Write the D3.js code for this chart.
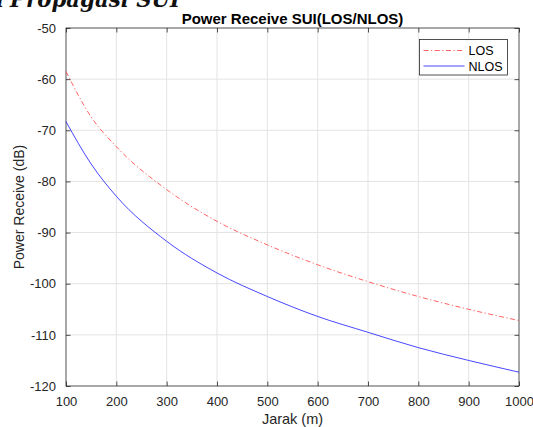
<!DOCTYPE html>
<html>
<head>
<meta charset="utf-8">
<script src="https://cdn.jsdelivr.net/npm/d3@7/dist/d3.min.js"></script>
<style>
  body { margin: 0; background: #fff; }
  svg { display: block; font-family: "Liberation Sans", Arial, sans-serif; }
</style>
</head>
<body>
<div id="app"></div>
<script>
// values
const jarak = [100, 150, 200, 300, 400, 500, 600, 700, 800, 900, 1000];
const los = [-58.5, -67.4, -73.2, -81.6, -87.8, -92.4, -96.3, -99.6, -102.5, -105.0, -107.2];
const nlos = [-68.3, -76.6, -82.9, -91.7, -97.9, -102.5, -106.4, -109.5, -112.5, -115.0, -117.3];
const xTicks = [100, 200, 300, 400, 500, 600, 700, 800, 900, 1000];
const yTicks = [-50, -60, -70, -80, -90, -100, -110, -120];
const seriesNames = ['LOS', 'NLOS'];

const width = 533;
const height = 427;
const margin = { top: 28, right: 14, bottom: 41, left: 66 };
const innerW = width - margin.left - margin.right;
const innerH = height - margin.top - margin.bottom;
const axisColor = '#262626';
const gridColor = '#e3e3e3';
const tickLen = 4.5;

const svg = d3.select('#app').append('svg')
  .attr('width', width)
  .attr('height', height);

// clipped heading from the surrounding document
const heading = svg.append('g')
  .style('font-family', '"DejaVu Serif", "Liberation Serif", serif')
  .style('font-weight', 'bold')
  .style('font-style', 'italic')
  .style('font-size', '22px')
  .attr('fill', '#111');

heading.append('text')
  .attr('x', 4).attr('y', 7)
  .attr('text-anchor', 'end')
  .text('i');

heading.append('text')
  .attr('x', 10).attr('y', 7)
  .attr('textLength', 170)
  .attr('lengthAdjust', 'spacingAndGlyphs')
  .text('Propagasi SUI');

const x = d3.scaleLinear().domain([100, 1000]).range([0, innerW]);
const y = d3.scaleLinear().domain([-120, -50]).range([innerH, 0]);

const g = svg.append('g').attr('transform', `translate(${margin.left},${margin.top})`);

// grid
g.append('g')
  .selectAll('line').data(xTicks.slice(1, -1))
  .enter().append('line')
  .attr('x1', d => x(d)).attr('x2', d => x(d))
  .attr('y1', 0).attr('y2', innerH)
  .attr('stroke', gridColor).attr('stroke-width', 1);

g.append('g')
  .selectAll('line').data(yTicks.slice(1, -1))
  .enter().append('line')
  .attr('y1', d => y(d)).attr('y2', d => y(d))
  .attr('x1', 0).attr('x2', innerW)
  .attr('stroke', gridColor).attr('stroke-width', 1);

// axes (ticks inside, matlab style)
const fmt = d => String(d).replace('\u2212', '-');
const styleAxis = sel => {
  sel.select('.domain').remove();
  sel.selectAll('line').attr('stroke', axisColor).attr('stroke-width', 0.8);
  sel.selectAll('text').attr('fill', axisColor).style('font-size', '13px');
};

g.append('g')
  .attr('transform', `translate(0,${innerH})`)
  .call(d3.axisBottom(x).tickValues(xTicks).tickFormat(fmt)
    .tickSizeInner(-tickLen).tickSizeOuter(0).tickPadding(11))
  .call(styleAxis);

g.append('g')
  .call(d3.axisTop(x).tickValues(xTicks).tickSizeInner(-tickLen).tickSizeOuter(0).tickFormat(''))
  .call(styleAxis);

g.append('g')
  .call(d3.axisLeft(y).tickValues(yTicks).tickFormat(fmt)
    .tickSizeInner(-tickLen).tickSizeOuter(0).tickPadding(10))
  .call(styleAxis);

g.append('g')
  .attr('transform', `translate(${innerW},0)`)
  .call(d3.axisRight(y).tickValues(yTicks).tickSizeInner(-tickLen).tickSizeOuter(0).tickFormat(''))
  .call(styleAxis);

g.append('rect')
  .attr('width', innerW).attr('height', innerH)
  .attr('fill', 'none').attr('stroke', axisColor).attr('stroke-width', 0.8);

// lines
const line = d3.line()
  .x((d, i) => x(jarak[i]))
  .y(d => y(d))
  .curve(d3.curveMonotoneX);

const styles = [
  { color: '#ff3b3b', dash: '5,2.5,1.2,2.5', opacity: 0.8 },
  { color: '#1a1aff', dash: null, opacity: 0.8 }
];

[los, nlos].forEach((vals, i) => {
  g.append('path')
    .datum(vals)
    .attr('d', line)
    .attr('fill', 'none')
    .attr('stroke', styles[i].color)
    .attr('stroke-opacity', styles[i].opacity)
    .attr('stroke-width', 1)
    .attr('stroke-dasharray', styles[i].dash);
});

// title and labels
svg.append('text')
  .attr('x', margin.left + innerW / 2)
  .attr('y', 24)
  .attr('text-anchor', 'middle')
  .attr('fill', '#000')
  .style('font-size', '15px')
  .style('font-weight', 'bold')
  .text('Power Receive SUI(LOS/NLOS)');

svg.append('text')
  .attr('x', margin.left + innerW / 2)
  .attr('y', 424)
  .attr('text-anchor', 'middle')
  .attr('fill', axisColor)
  .style('font-size', '14.5px')
  .text('Jarak (m)');

svg.append('text')
  .attr('transform', `translate(24,${margin.top + innerH / 2}) rotate(-90)`)
  .attr('text-anchor', 'middle')
  .attr('fill', axisColor)
  .style('font-size', '14px')
  .text('Power Receive (dB)');

// legend
const legend = svg.append('g').attr('transform', 'translate(419.5,39.5)');
legend.append('rect')
  .attr('width', 88).attr('height', 35.5)
  .attr('fill', '#fff').attr('stroke', axisColor).attr('stroke-width', 0.8);

seriesNames.forEach((name, i) => {
  const ly = 11 + i * 15.5;
  legend.append('line')
    .attr('x1', 4).attr('x2', 45)
    .attr('y1', ly).attr('y2', ly)
    .attr('stroke', styles[i].color)
    .attr('stroke-opacity', styles[i].opacity)
    .attr('stroke-dasharray', styles[i].dash);
  legend.append('text')
    .attr('x', 49).attr('y', ly + 4.5)
    .attr('fill', '#000')
    .style('font-size', '12.5px')
    .text(name);
});
</script>
</body>
</html>
